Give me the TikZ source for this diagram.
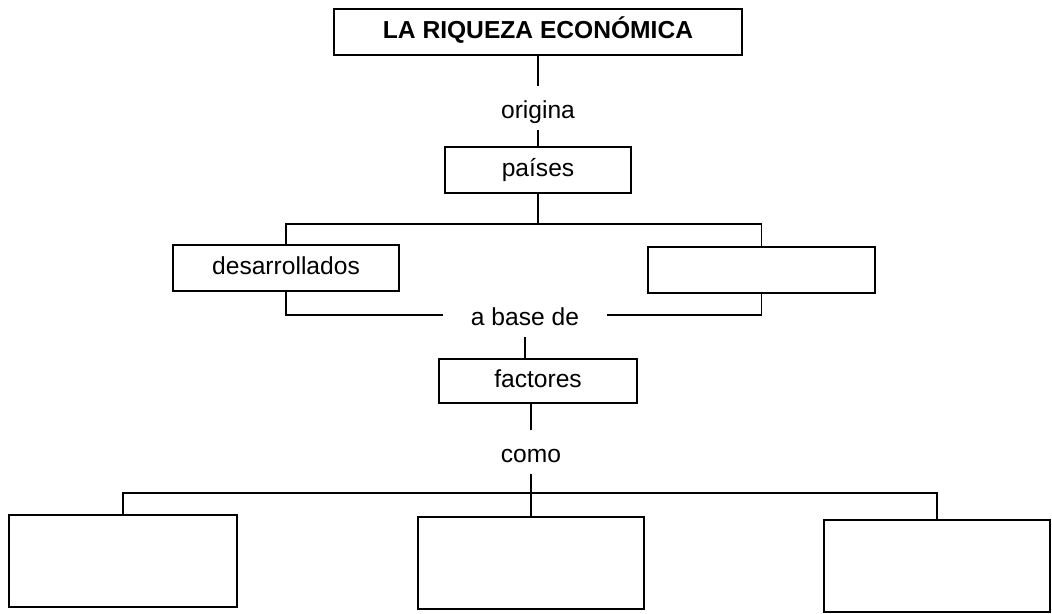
\documentclass[tikz,border=0pt]{standalone}
\usepackage{fontspec}
\setmainfont{Liberation Sans}
\usepackage{xcolor}
\usepackage{tikz}
\usetikzlibrary{positioning}
\definecolor{mapInk}{HTML}{000000}
\tikzset{
  concept/.style={
    rectangle,
    draw=mapInk,
    line width=1.1pt,
    inner sep=0pt,
    minimum height=9.2mm,
    align=center,
    text height=10pt,
    text depth=3pt,
    font=\fontsize{14}{16}\selectfont
  },
  conceptTall/.style={
    concept,
    minimum height=18.4mm
  },
  linkword/.style={
    anchor=base,
    inner xsep=1pt,
    inner ysep=4pt,
    text height=14pt,
    text depth=2.8pt,
    font=\fontsize{14}{16}\selectfont
  },
  link/.style={
    line width=1.1pt,
    draw=mapInk
  }
}
\begin{document}
\begin{tikzpicture}[x=0.02cm,y=-0.02cm]
  \useasboundingbox (0,0) rectangle (1052,613);
  \node[concept,minimum width=81.6mm,font=\bfseries\fontsize{14}{16}\selectfont] (riqueza) at (538,32) {LA RIQUEZA ECONÓMICA};
  \node[linkword] (origina) at (538,118) {origina};
  \node[concept,minimum width=37.2mm] (paises) at (538,170) {países};
  \coordinate (hubA) at (538,224);
  \node[concept,minimum width=45.2mm] (desarrollados) at (286,268) {desarrollados};
  \node[concept,minimum width=45.4mm] (otros) at (761.5,270) {};
  \node[linkword,inner xsep=5.6mm] (abase) at (525,325) {a base de};
  \node[concept,minimum width=39.6mm,minimum height=8.8mm] (factores) at (538,381) {factores};
  \node[linkword] (como) at (531,462) {como};
  \coordinate (hubB) at (531,493);
  \node[conceptTall,minimum width=45.6mm] (factorA) at (123,561) {};
  \node[conceptTall,minimum width=45.2mm] (factorB) at (531,563) {};
  \node[conceptTall,minimum width=45.2mm] (factorC) at (937,566) {};
  \draw[link] (riqueza) -- (origina);
  \draw[link] (origina) -- (paises);
  \draw[link] (paises) -- (hubA);
  \draw[link] (desarrollados.north) |- (hubA) -| (otros.north);
  \draw[link] (desarrollados.south) |- (abase.west);
  \draw[link] (otros.south) |- (abase.east);
  \draw[link] (abase) -- (abase |- factores.north);
  \draw[link] (factores.south -| como) -- (como);
  \draw[link] (como) -- (hubB);
  \draw[link] (factorA.north) |- (hubB) -| (factorC.north);
  \draw[link] (hubB) -- (factorB);
\end{tikzpicture}
\end{document}
